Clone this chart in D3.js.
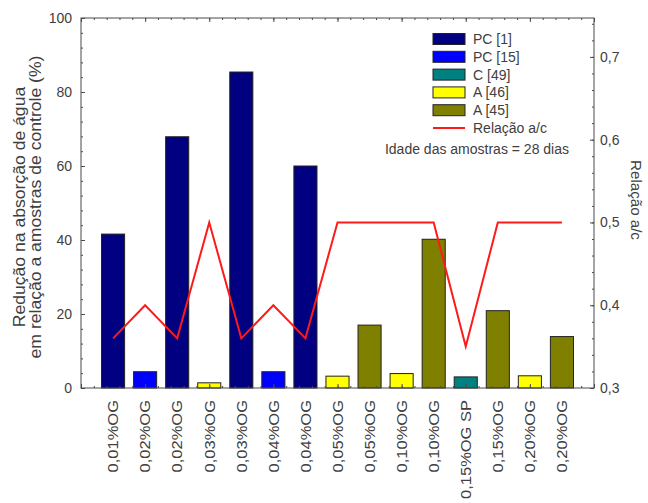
<!DOCTYPE html>
<html>
<head>
<meta charset="utf-8">
<script src="https://cdn.jsdelivr.net/npm/d3@7"></script>
<style>
  html, body { margin: 0; padding: 0; background: #fff; }
  svg { display: block; font-family: "Liberation Sans", Arial, sans-serif; }
</style>
</head>
<body>
<svg id="chart" width="648" height="503"></svg>
<script>
// Categories (dosage of graphene oxide) along the x axis
const categories = [
  "0,01%OG", "0,02%OG", "0,02%OG", "0,03%OG", "0,03%OG", "0,04%OG", "0,04%OG",
  "0,05%OG", "0,05%OG", "0,10%OG", "0,10%OG", "0,15%OG SP", "0,15%OG", "0,20%OG", "0,20%OG"
];
// Source reference of each bar
const sources = [
  "PC [1]", "PC [15]", "PC [1]", "A [46]", "PC [1]", "PC [15]", "PC [1]",
  "A [46]", "A [45]", "A [46]", "A [45]", "C [49]", "A [45]", "A [46]", "A [45]"
];
// Reduction in water absorption (%)
const reduction = [41.6, 4.4, 67.9, 1.4, 85.4, 4.4, 60.0, 3.2, 17.0, 3.9, 40.2, 3.0, 20.9, 3.3, 13.9];
// Water/cement ratio
const ratioAC = [0.36, 0.40, 0.36, 0.50, 0.36, 0.40, 0.36, 0.50, 0.50, 0.50, 0.50, 0.35, 0.50, 0.50, 0.50];

const legendNames = ["PC [1]", "PC [15]", "C [49]", "A [46]", "A [45]"];
const legendColors = ["#000080", "#0000ff", "#008080", "#ffff00", "#808000"];
const leftTicks = [0, 20, 40, 60, 80, 100];
const rightTicks = [0.3, 0.4, 0.5, 0.6, 0.7];

const svg = d3.select("#chart");
const pLeft = 81, pRight = 594, pTop = 18, pBottom = 388;
const textColor = "#404040";
const frameColor = "#4a4a4a";

const x = d3.scaleLinear().domain([-1, categories.length]).range([pLeft, pRight]);
const y = d3.scaleLinear().domain([0, 100]).range([pBottom, pTop]);
const y2 = d3.scaleLinear().domain([0.3, 0.747]).range([pBottom, pTop]);
const color = d3.scaleOrdinal().domain(legendNames).range(legendColors);

// Bars
const halfW = 0.36;
svg.append("g").selectAll("rect").data(reduction).join("rect")
  .attr("x", (d, i) => x(i - halfW))
  .attr("width", (d, i) => x(i + halfW) - x(i - halfW))
  .attr("y", d => y(d))
  .attr("height", d => y(0) - y(d))
  .attr("fill", (d, i) => color(sources[i]))
  .attr("stroke", "#222")
  .attr("stroke-width", 1);

// w/c ratio line
svg.append("path").datum(ratioAC)
  .attr("fill", "none")
  .attr("stroke", "#ff1a1a")
  .attr("stroke-width", 2)
  .attr("d", d3.line().x((d, i) => x(i)).y(d => y2(d)));

// Frame
svg.append("rect")
  .attr("x", pLeft).attr("y", pTop)
  .attr("width", pRight - pLeft).attr("height", pBottom - pTop)
  .attr("fill", "none").attr("stroke", frameColor).attr("stroke-width", 1);

// Left axis (ticks inside)
const leftAxis = d3.axisRight(y).tickValues(leftTicks).tickSize(4).tickFormat("");
svg.append("g").attr("transform", `translate(${pLeft},0)`).call(leftAxis)
  .call(g => g.select(".domain").remove())
  .call(g => g.selectAll("line").attr("stroke", frameColor));
const leftMinor = d3.axisRight(y).tickValues(d3.range(0, 101, 4)).tickSize(2).tickFormat("");
svg.append("g").attr("transform", `translate(${pLeft},0)`).call(leftMinor)
  .call(g => g.select(".domain").remove())
  .call(g => g.selectAll("line").attr("stroke", frameColor));
svg.append("g").selectAll("text").data(leftTicks).join("text")
  .attr("x", 72).attr("y", d => y(d)).attr("dy", "0.35em")
  .attr("text-anchor", "end").attr("font-size", 14).attr("fill", textColor)
  .text(d => d);

// Right axis (ticks inside)
const rightAxis = d3.axisLeft(y2).tickValues(rightTicks).tickSize(4).tickFormat("");
svg.append("g").attr("transform", `translate(${pRight},0)`).call(rightAxis)
  .call(g => g.select(".domain").remove())
  .call(g => g.selectAll("line").attr("stroke", frameColor));
const rightMinor = d3.axisLeft(y2).tickValues(d3.range(0.30, 0.745, 0.02)).tickSize(2).tickFormat("");
svg.append("g").attr("transform", `translate(${pRight},0)`).call(rightMinor)
  .call(g => g.select(".domain").remove())
  .call(g => g.selectAll("line").attr("stroke", frameColor));
svg.append("g").selectAll("text").data(rightTicks).join("text")
  .attr("x", 600).attr("y", d => y2(d)).attr("dy", "0.35em")
  .attr("text-anchor", "start").attr("font-size", 14).attr("fill", textColor)
  .text(d => d3.format(".1f")(d).replace(".", ","));

// Top and bottom ticks
const xMajor = d3.range(-1, categories.length + 1, 2);
const xMinor = d3.range(-1, categories.length + 0.01, 0.4);
[[d3.axisTop, pBottom], [d3.axisBottom, pTop]].forEach(([ax, pos]) => {
  svg.append("g").attr("transform", `translate(0,${pos})`)
    .call(ax(x).tickValues(xMajor).tickSize(4).tickFormat(""))
    .call(g => g.select(".domain").remove())
    .call(g => g.selectAll("line").attr("stroke", frameColor));
  svg.append("g").attr("transform", `translate(0,${pos})`)
    .call(ax(x).tickValues(xMinor).tickSize(2).tickFormat(""))
    .call(g => g.select(".domain").remove())
    .call(g => g.selectAll("line").attr("stroke", frameColor));
});

// Category labels, rotated (slightly stretched along the reading direction)
svg.append("g").selectAll("text").data(categories).join("text")
  .attr("transform", (d, i) => `translate(${x(i)},400) rotate(-90) scale(1.1,1)`)
  .attr("dy", "0.35em")
  .attr("text-anchor", "end").attr("font-size", 15).attr("fill", textColor)
  .text(d => d);

// Axis titles
const lt = svg.append("g").attr("font-size", 16).attr("fill", textColor)
  .attr("text-anchor", "middle");
lt.append("text").attr("transform", "translate(19.5,207) rotate(-90) scale(1.1,1)")
  .attr("dy", "0.35em").text("Redução na absorção de água");
lt.append("text").attr("transform", "translate(35.5,207) rotate(-90) scale(1.1,1)")
  .attr("dy", "0.35em").text("em relação a amostras de controle (%)");

svg.append("text")
  .attr("transform", `translate(636,200) rotate(90) scale(1.08,1)`)
  .attr("text-anchor", "middle").attr("dy", "0.35em")
  .attr("font-size", 14).attr("fill", textColor)
  .text("Relação a/c");

// Legend
const lg = svg.append("g");
const rowY = i => 39 + i * 17.8;
lg.selectAll("rect").data(legendNames).join("rect")
  .attr("x", 433).attr("y", (d, i) => rowY(i) - 5.5)
  .attr("width", 32).attr("height", 11)
  .attr("fill", d => color(d)).attr("stroke", "#222").attr("stroke-width", 1);
lg.selectAll("text.name").data(legendNames.concat(["Relação a/c"])).join("text")
  .attr("class", "name")
  .attr("x", 473).attr("y", (d, i) => rowY(i)).attr("dy", "0.35em")
  .attr("font-size", 14).attr("fill", textColor).text(d => d);
lg.append("line")
  .attr("x1", 433).attr("x2", 465).attr("y1", rowY(5)).attr("y2", rowY(5))
  .attr("stroke", "#ff1a1a").attr("stroke-width", 2);
lg.append("text")
  .attr("x", 569).attr("y", 149).attr("dy", "0.35em")
  .attr("text-anchor", "end").attr("font-size", 14).attr("fill", textColor)
  .text("Idade das amostras = 28 dias");
</script>
</body>
</html>
